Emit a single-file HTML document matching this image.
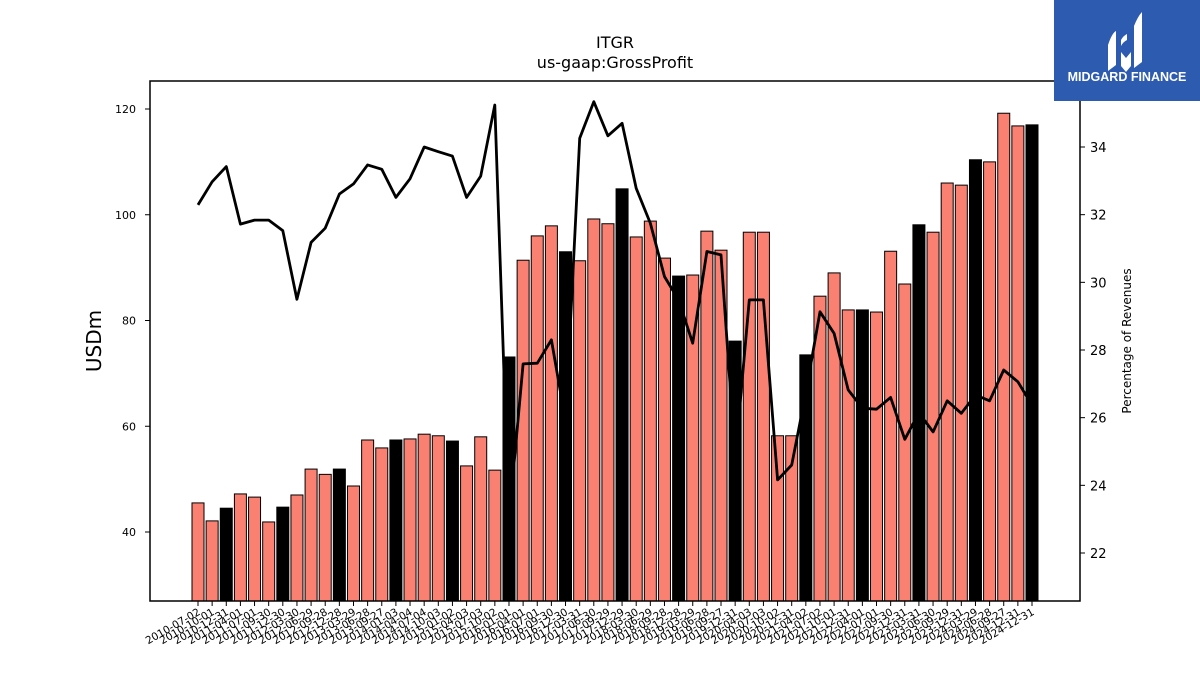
<!DOCTYPE html>
<html><head><meta charset="utf-8"><style>
body{margin:0;background:#fff;}
svg{display:block;font-family:"DejaVu Sans","Liberation Sans",sans-serif;}
</style></head><body>
<svg id="chart" width="1200" height="675" viewBox="0 0 1200 675" xmlns="http://www.w3.org/2000/svg">
<text x="615" y="48" text-anchor="middle" font-size="16">ITGR</text>
<text x="615" y="68" text-anchor="middle" font-size="16">us-gaap:GrossProfit</text>
<text transform="translate(101,341) rotate(-90)" text-anchor="middle" font-size="20">USDm</text>
<text transform="translate(1131,341) rotate(-90)" text-anchor="middle" font-size="12">Percentage of Revenues</text>
<g id="bars"></g>
<g id="line"></g>
<rect x="150" y="81" width="930" height="520" fill="none" stroke="#000" stroke-width="1.5"/>
<g id="yticks"></g>
<g id="y2ticks"></g>
<g id="xticks"></g>
<g>
<rect x="1054" y="0" width="146" height="101" fill="#2d5bb0"/>
<path d="M1108 45 q4-12 8-14 v34 l-8 6z M1121 40 q2-4 6-6 v6 q-4 2 -6 6z M1121 52 l5 6 5-6 v14 l-5 6 -5-6z M1134 26 q4-10 8-14 v50 l-8 6z" fill="#fff"/>
<text x="1127" y="81" text-anchor="middle" font-size="12.5" font-weight="bold" fill="#fff" font-family="Liberation Sans, sans-serif">MIDGARD FINANCE</text>
</g>
</svg>
<script>
const dates=["2010-07-02","2010-10-01","2010-12-31","2011-04-01","2011-07-01","2011-09-30","2011-12-30","2012-03-30","2012-06-29","2012-09-28","2012-12-28","2013-03-29","2013-06-28","2013-09-27","2014-01-03","2014-04-04","2014-07-04","2014-10-03","2015-01-02","2015-04-03","2015-07-03","2015-10-02","2016-01-01","2016-04-01","2016-07-01","2016-09-30","2016-12-30","2017-03-31","2017-06-30","2017-09-29","2017-12-29","2018-03-30","2018-06-29","2018-09-28","2018-12-28","2019-03-29","2019-06-28","2019-09-27","2019-12-31","2020-04-03","2020-07-03","2020-10-02","2020-12-31","2021-04-02","2021-07-02","2021-10-01","2021-12-31","2022-04-01","2022-07-01","2022-09-30","2022-12-31","2023-03-31","2023-06-30","2023-09-29","2023-12-31","2024-03-29","2024-06-28","2024-09-27","2024-12-31","2024-12-31"];
const grossProfit=[45.5,42.1,44.5,47.2,46.6,41.9,44.7,47,51.9,50.9,51.9,48.7,57.4,55.9,57.4,57.6,58.5,58.2,57.2,52.5,58,51.7,73.1,91.4,96,97.9,93,91.3,99.2,98.3,104.9,95.8,98.8,91.8,88.4,88.6,96.9,93.3,76.1,96.7,96.7,58.2,58.2,73.5,84.6,89,82,82,81.6,93.1,86.9,98.1,96.7,106,105.6,110.4,110,119.2,116.8,117];
const isAnnual=[0,0,1,0,0,0,1,0,0,0,1,0,0,0,1,0,0,0,1,0,0,0,1,0,0,0,1,0,0,0,1,0,0,0,1,0,0,0,1,0,0,0,0,1,0,0,0,1,0,0,0,1,0,0,0,1,0,0,0,1];
const marginPct=[32.29,32.97,33.42,31.72,31.84,31.84,31.53,29.5,31.18,31.6,32.61,32.91,33.47,33.34,32.51,33.06,34.0,33.86,33.73,32.51,33.14,35.24,23.0,27.59,27.61,28.3,25.9,34.26,35.34,34.33,34.7,32.78,31.75,30.17,29.48,28.2,30.91,30.81,24.8,29.48,29.48,24.16,24.6,26.73,29.13,28.49,26.82,26.28,26.25,26.6,25.36,26.14,25.58,26.5,26.13,26.67,26.5,27.41,27.06,26.37];
const yTicks=[40,60,80,100,120];
const y2Ticks=[22,24,26,28,30,32,34];
const NS="http://www.w3.org/2000/svg";
const X0=198,X1=1032;
const xPos=i=>X0+(X1-X0)*i/(grossProfit.length-1);
const yScale=v=>532-(v-40)*(532-109)/80;
const y2Scale=v=>553-(v-22)*(553-147)/12;
function mk(tag,attrs,parent){const e=document.createElementNS(NS,tag);for(const k in attrs)e.setAttribute(k,attrs[k]);parent.appendChild(e);return e;}
const bars=document.getElementById('bars');
grossProfit.forEach((v,i)=>{
 const y=yScale(v);
 const r=mk('rect',{x:xPos(i)-6,y:y,width:12,height:601-y,fill:isAnnual[i]?'#000':'#fa8072',stroke:'#000','stroke-width':1},bars);
 
 
});
const pts=marginPct.map((v,i)=>xPos(i).toFixed(1)+','+y2Scale(v).toFixed(1)).join(' ');
const pl=mk('polyline',{points:pts,fill:'none',stroke:'#000','stroke-width':2.8,'stroke-linejoin':'round'},document.getElementById('line'));


const yt=document.getElementById('yticks');
yTicks.forEach(v=>{const y=yScale(v);
 mk('line',{x1:145,x2:150,y1:y,y2:y,stroke:'#000'},yt);
 const t=mk('text',{x:136,y:y+4,'text-anchor':'end','font-size':11},yt);t.textContent=v;
 
 });
const y2t=document.getElementById('y2ticks');
y2Ticks.forEach(v=>{const y=y2Scale(v);
 mk('line',{x1:1080,x2:1085,y1:y,y2:y,stroke:'#000'},y2t);
 const t=mk('text',{x:1090,y:y+5,'text-anchor':'start','font-size':13},y2t);t.textContent=v;
 
 });
const xt=document.getElementById('xticks');
dates.forEach((d,i)=>{const x=xPos(i);
 mk('line',{x1:x,x2:x,y1:601,y2:606,stroke:'#000'},xt);
 const t=mk('text',{transform:`translate(${x+3},${614}) rotate(-30)`,'text-anchor':'end','font-size':10.5},xt);t.textContent=d;
 
 });
</script>
</body></html>
